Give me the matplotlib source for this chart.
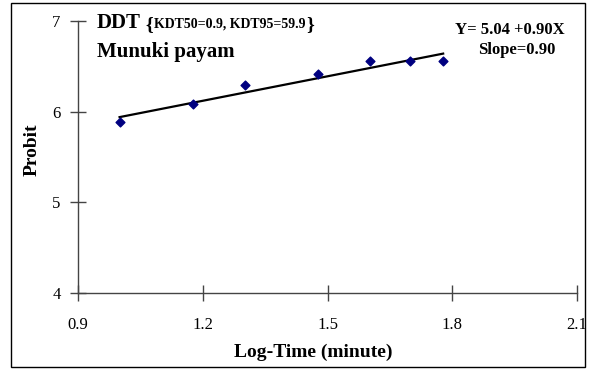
import numpy as np
import matplotlib
matplotlib.use("Agg")
import matplotlib.pyplot as plt
from matplotlib.patches import Rectangle

plt.rcParams['font.family'] = ['Liberation Serif', 'DejaVu Serif']

# exposure times (minutes) and observed probits
minutes = [10, 15, 20, 30, 40, 50, 60]
log_time = np.log10(minutes)
probit = [5.89, 6.09, 6.29, 6.42, 6.56, 6.56, 6.56]

# regression line Y = 5.04 + 0.90X
intercept = 5.04
slope = 0.90

xticks = [0.9, 1.2, 1.5, 1.8, 2.1]
yticks = [4, 5, 6, 7]

W, H = 589, 370
fig = plt.figure(figsize=(W / 100, H / 100), dpi=100)
ax = fig.add_axes([78 / W, 1 - 293 / H, (577 - 78) / W, (293 - 21) / H])

# outer frame
fig.patches.append(Rectangle((11 / W, 1 - 367 / H), (585 - 11) / W, (367 - 3) / H,
                             transform=fig.transFigure, fill=False,
                             edgecolor='black', linewidth=1.0))

ax.scatter(log_time, probit, marker='D', s=20, color='#000080', zorder=3)
xl = np.array([log_time[0], log_time[-1]])
ax.plot(xl, intercept + slope * xl, color='black', linewidth=1.6)

ax.set_xlim(0.9, 2.1)
ax.set_ylim(4, 7)
ax.set_xticks(xticks)
ax.set_xticklabels(['0.9', '1.2', '1.5', '1.8', '2.1'])
ax.set_yticks(yticks)
ax.spines['top'].set_visible(False)
ax.spines['right'].set_visible(False)
for s in ['left', 'bottom']:
    ax.spines[s].set_color('#444444')
    ax.spines[s].set_linewidth(1.0)
ax.tick_params(direction='inout', length=11, width=1.0, color='#444444',
               labelsize=12)
ax.tick_params(axis='x', pad=12)
ax.tick_params(axis='y', pad=7)
ax.patch.set_alpha(0)

fig.text(313 / W, 1 - 352 / H, 'Log-Time (minute)', fontsize=14,
         fontweight='bold', ha='center', va='center')
fig.text(32 / W, 1 - 150 / H, 'Probit', fontsize=14, fontweight='bold',
         ha='center', va='center', rotation=90)

t1 = fig.text(97 / W, 1 - 28 / H, 'DDT', fontsize=15, fontweight='bold',
              va='baseline', ha='left')
t2 = ax.annotate('{', xy=(1, 0), xycoords=t1, xytext=(3, 0),
                 textcoords='offset points', va='bottom', ha='left',
                 fontsize=14, fontweight='bold')
t3 = ax.annotate('KDT50=0.9, KDT95=59.9', xy=(1, 0), xycoords=t2,
                 xytext=(0.5, 2), textcoords='offset points',
                 va='bottom', ha='left', fontsize=10, fontweight='bold')
ax.annotate('}', xy=(1, 0), xycoords=t3, xytext=(0.5, -2),
            textcoords='offset points', va='bottom', ha='left',
            fontsize=14, fontweight='bold')
fig.text(97 / W, 1 - 57 / H, 'Munuki payam', fontsize=15, fontweight='bold',
         va='baseline', ha='left')

fig.text(510 / W, 1 - 34 / H, 'Y= 5.04 +0.90X', fontsize=12,
         fontweight='bold', va='baseline', ha='center')
fig.text(517 / W, 1 - 54 / H, 'Slope=0.90', fontsize=12,
         fontweight='bold', va='baseline', ha='center')

fig.savefig('out.png', dpi=100)
